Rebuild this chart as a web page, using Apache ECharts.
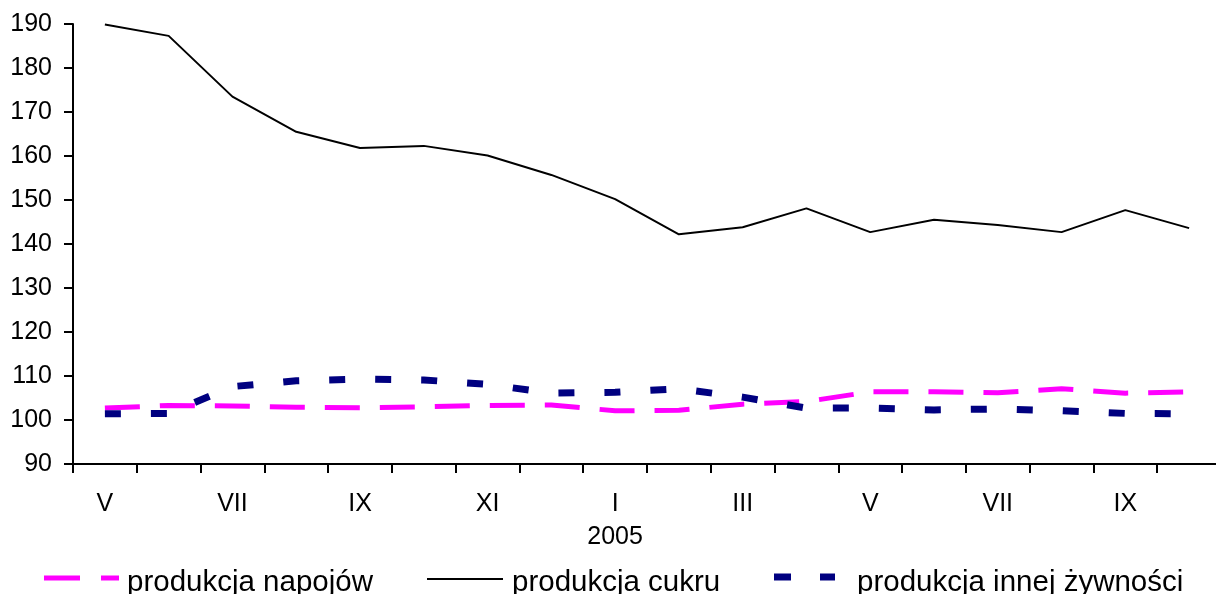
<!DOCTYPE html>
<html>
<head>
<meta charset="utf-8">
<script src="https://cdn.jsdelivr.net/npm/echarts@6/dist/echarts.min.js"></script>
<style>
html,body{margin:0;padding:0;background:#fff;}
#chart{width:1216px;height:594px;}
</style>
</head>
<body>
<div id="chart"></div>
<script>
var categories = ['V','VI','VII','VIII','IX','X','XI','XII','I','II','III','IV','V','VI','VII','VIII','IX','X'];
var napojow = [102.7,103.3,103.2,102.9,102.8,103.0,103.3,103.4,102.1,102.2,103.6,104.2,106.4,106.4,106.2,107.1,106.1,106.4];
var cukru = [189.9,187.3,173.5,165.5,161.8,162.3,160.1,155.7,150.2,142.2,143.8,148.1,142.7,145.5,144.3,142.7,147.7,143.6];
var innej = [101.4,101.5,107.6,108.9,109.3,109.1,108.1,106.1,106.3,107.1,105.2,102.7,102.7,102.3,102.5,102.1,101.5,101.4];
var yTicks = {min: 90, max: 190, interval: 10};
var names = ['produkcja napojów','produkcja cukru','produkcja innej żywności'];
var yearLabel = '2005';

var FONT = 'Liberation Sans, Arial, sans-serif';
var chart = echarts.init(document.getElementById('chart'), null, {renderer:'canvas'});

var LEG_Y = 578;
var LEG_TY = 583;
var LEG_FS = 29.5;
function seg(x1, x2, y, color, w){
  return {type:'line', shape:{x1:x1, y1:y, x2:x2, y2:y}, style:{stroke:color, lineWidth:w, lineCap:'butt'}, silent:true};
}
function txt(x, s){
  return {type:'text', x:x, y:LEG_TY, style:{text:s, fill:'#000', font:LEG_FS+'px '+FONT, verticalAlign:'middle', align:'left'}, silent:true};
}

chart.setOption({
  animation:false,
  backgroundColor:'#fff',
  grid:{left:73, width:1148, top:24, height:440, containLabel:false, outerBoundsMode:'none'},
  legend:{show:false},
  graphic:[
    seg(44,80,LEG_Y,'#FF00FF',5), seg(101,119,LEG_Y,'#FF00FF',5), txt(127,names[0]),
    seg(427,503,579,'#000',2), txt(512,names[1]),
    seg(774,791,577,'#000080',7), seg(820,835,577,'#000080',7), txt(857,names[2])
  ],
  xAxis:{
    type:'category', data:categories, boundaryGap:true,
    axisLine:{lineStyle:{color:'#000', width:2}},
    axisTick:{show:true, inside:false, length:9, interval:0, lineStyle:{color:'#000', width:2}},
    axisLabel:{interval:1, margin:24, fontFamily:FONT, fontSize:25, color:'#000', lineHeight:33,
      formatter:function(v, i){ return i===8 ? v + '\n' + yearLabel : v; }}
  },
  yAxis:{
    type:'value', min:yTicks.min, max:yTicks.max, interval:yTicks.interval,
    axisLine:{show:true, lineStyle:{color:'#000', width:2}},
    axisTick:{show:true, length:9, lineStyle:{color:'#000', width:2}},
    splitLine:{show:false},
    axisLabel:{margin:21, fontFamily:FONT, fontSize:25, color:'#000'}
  },
  series:[
    {name:names[0], type:'line', data:napojow, symbol:'none', showSymbol:false,
     lineStyle:{color:'#FF00FF', width:5, type:[35,20], cap:'butt'}, itemStyle:{color:'#FF00FF'}},
    {name:names[1], type:'line', data:cukru, symbol:'none', showSymbol:false,
     lineStyle:{color:'#000', width:2}, itemStyle:{color:'#000'}},
    {name:names[2], type:'line', data:innej, symbol:'none', showSymbol:false,
     lineStyle:{color:'#000080', width:7, type:[16,30], cap:'butt'}, itemStyle:{color:'#000080'}}
  ]
});
</script>
</body>
</html>
